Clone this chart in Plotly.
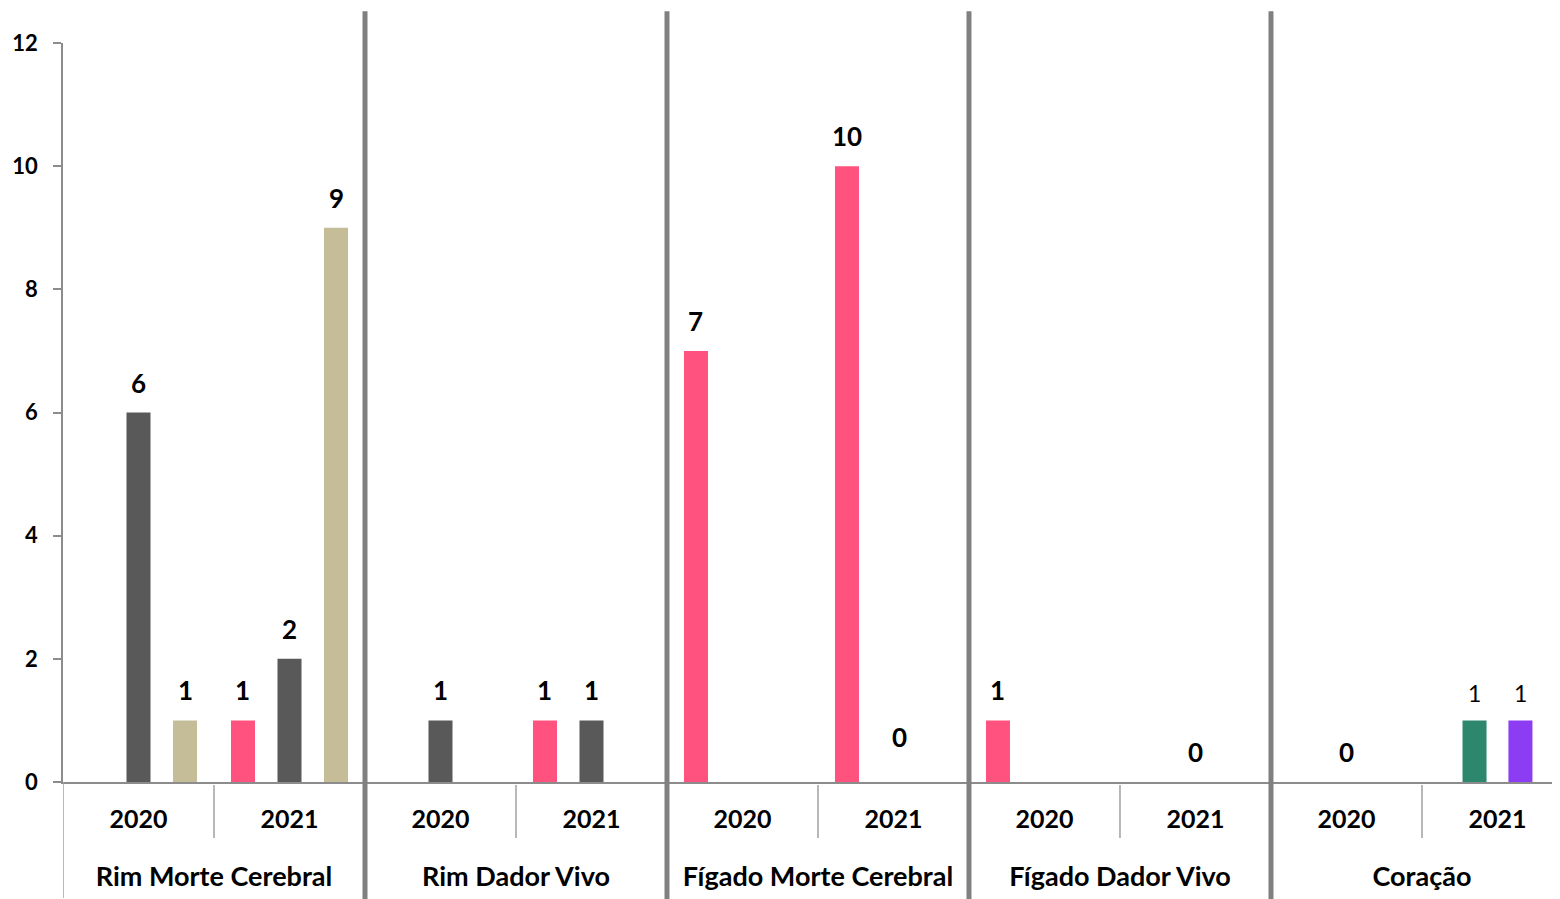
import plotly.graph_objects as go

organs = ["Rim Morte Cerebral", "Rim Dador Vivo", "Fígado Morte Cerebral", "Fígado Dador Vivo", "Coração"]
years = ["2020", "2021"]

# values per (organ, year) category, in order
s_pink   = [None, 1, None, 1, 7, 10, 1, None, None, None]
s_gray   = [6, 2, 1, 1, None, None, None, 0, 0, None]
s_beige  = [1, 9, None, None, None, None, None, None, None, None]
s_zero   = [None, None, None, None, None, 0, None, None, None, None]
s_green  = [None, None, None, None, None, None, None, None, None, 1]
s_purple = [None, None, None, None, None, None, None, None, None, 1]

y_ticks = [0, 2, 4, 6, 8, 10, 12]

FONT = "Lato"
outer = ["<br><span style='font-size:27px'><b>" + o + "</b></span>" for o in organs for _ in years]
inner = ["<span style='font-size:25px'><b>" + y + "</b></span>" for _ in organs for y in years]

BW = 0.159
series = [
    # values, colour, slot offset, label shift px, bold, label size
    (s_pink, "#FF527F", -0.308, 30, True, 26),
    (s_gray, "#595959", 0.0, 30, True, 26),
    (s_beige, "#C4BD97", 0.308, 30, True, 26),
    (s_zero, "#595959", 0.043, 45, True, 26),
    (s_green, "#2C876C", -0.152, 27, False, 23),
    (s_purple, "#8C3CF2", 0.152, 27, False, 23),
]

fig = go.Figure()
# invisible trace fixing category order
fig.add_trace(go.Bar(x=[outer, inner], y=[None] * len(outer), showlegend=False, hoverinfo="skip"))

annotations = []
for vals, col, off, shift, bold, fs in series:
    xo = [outer[i] for i, v in enumerate(vals) if v is not None]
    xi = [inner[i] for i, v in enumerate(vals) if v is not None]
    yv = [v for v in vals if v is not None]
    fig.add_trace(go.Bar(x=[xo, xi], y=yv, marker=dict(color=col, line=dict(width=0)),
                         width=BW, offset=off - BW / 2, showlegend=False))
    for i, v in enumerate(vals):
        if v is None:
            continue
        txt = f"<b>{v}</b>" if bold else str(v)
        annotations.append(dict(x=i + off, y=v, xref="x2", yref="y", text=txt, showarrow=False,
                                yshift=shift, font=dict(family=FONT, size=fs, color="#000000")))

shapes = []
# thick separators between organ groups
for k in range(1, len(organs)):
    shapes.append(dict(type="line", xref="x2", yref="paper", x0=2 * k - 0.5, x1=2 * k - 0.5,
                       y0=-0.16, y1=1.043, line=dict(color="#808080", width=5)))
# small dividers between years
for k in range(len(organs)):
    shapes.append(dict(type="line", xref="x2", yref="paper", ysizemode="pixel", yanchor=0,
                       x0=2 * k + 0.5, x1=2 * k + 0.5, y0=-3, y1=-56,
                       line=dict(color="#A0A0A0", width=1.5)))
# left outer divider
shapes.append(dict(type="line", xref="x2", yref="paper", ysizemode="pixel", yanchor=0,
                   x0=-0.5, x1=-0.5, y0=0, y1=-116, line=dict(color="#A0A0A0", width=1.5)))

XR = [-0.5, 9.414]
fig.update_layout(
    width=1552, height=891,
    margin=dict(l=55, r=0, t=35, b=117),
    paper_bgcolor="white", plot_bgcolor="white",
    barmode="overlay",
    font=dict(family=FONT, size=25, color="#000000"),
    xaxis=dict(type="multicategory", range=XR, showgrid=False, showline=True, linecolor="#8C8C8C",
               linewidth=1.5, ticks="", ticklabelstandoff=11,
               showdividers=False, automargin=False,
               tickfont=dict(family=FONT, size=28, color="#000000")),
    xaxis2=dict(overlaying="x", range=XR, visible=False, anchor="y"),
    yaxis=dict(range=[0, 12], tickvals=y_ticks, ticktext=[str(t) for t in y_ticks],
               showgrid=False, zeroline=False, showline=True, linecolor="#8C8C8C", linewidth=1.5,
               ticks="outside", ticklen=8, tickcolor="#8C8C8C", tickwidth=1.5, automargin=False,
               ticklabelstandoff=11,
               tickfont=dict(family=FONT, size=22, color="#000000", weight="bold")),
    shapes=shapes,
    annotations=annotations,
)
# attach an invisible trace to x2 so it is laid out
fig.add_trace(go.Scatter(x=[0], y=[None], xaxis="x2", yaxis="y", showlegend=False, hoverinfo="skip"))

fig.write_html("out.html")
